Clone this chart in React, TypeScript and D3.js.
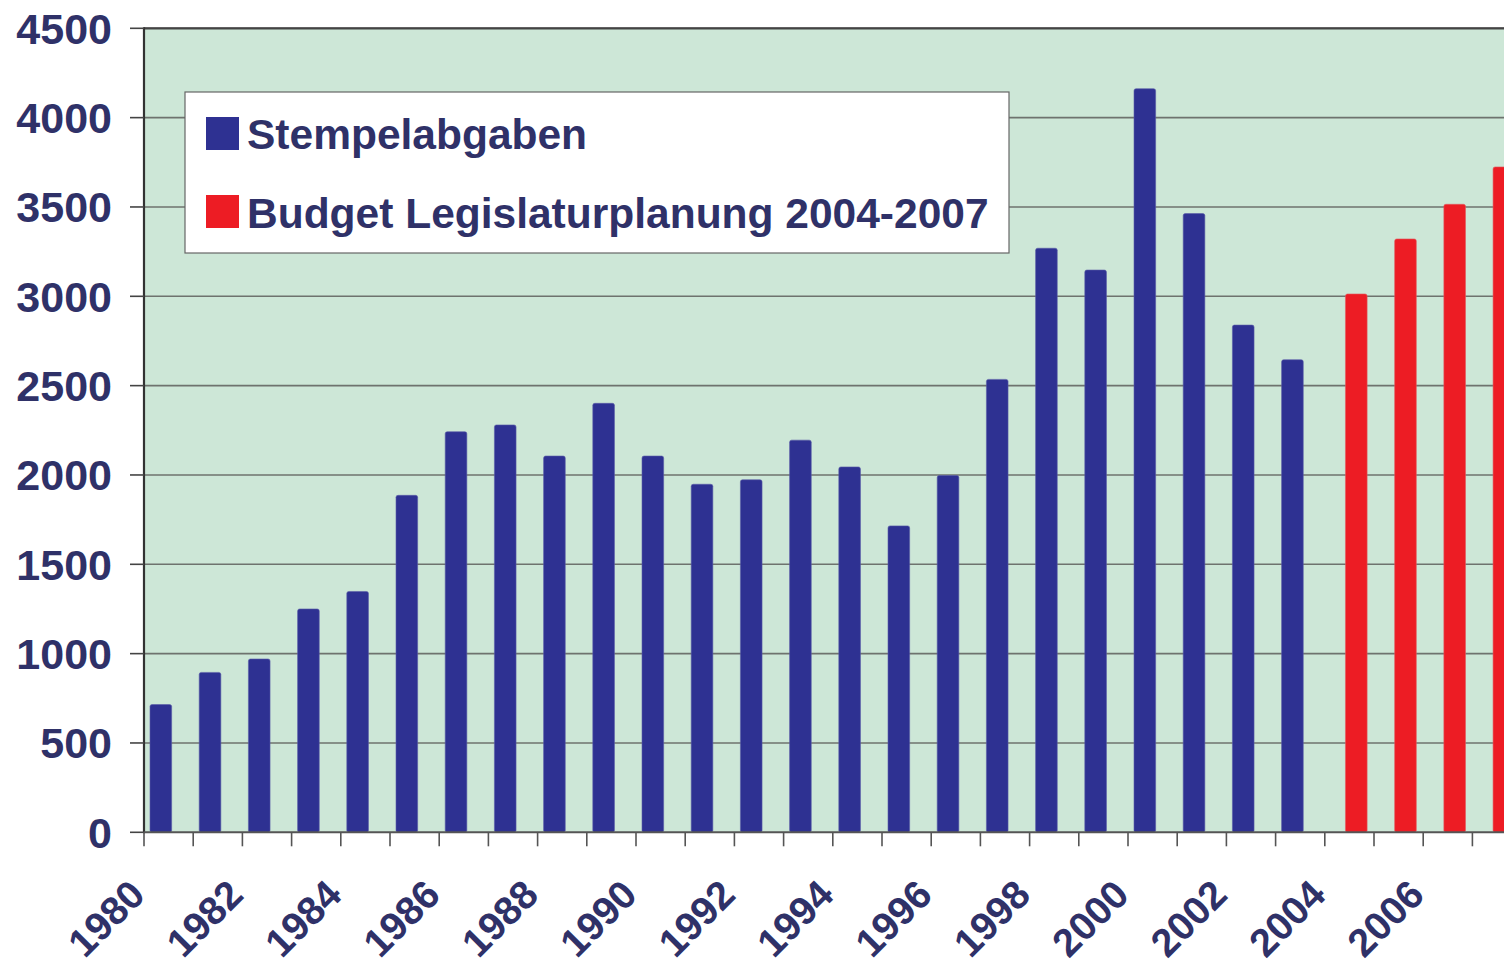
import * as d3 from 'd3';

// categories and values
const years = [
  '1980', '1981', '1982', '1983', '1984', '1985', '1986', '1987', '1988', '1989',
  '1990', '1991', '1992', '1993', '1994', '1995', '1996', '1997', '1998', '1999',
  '2000', '2001', '2002', '2003', '2004', '2005', '2006', '2007',
];
const stempelYears = years.slice(0, 24);
const stempelabgaben = [
  715, 895, 970, 1250, 1348, 1886, 2242, 2280, 2106, 2401,
  2106, 1948, 1973, 2195, 2045, 1715, 1997, 2535, 3269, 3147,
  4162, 3463, 2839, 2645,
];
const budgetYears = ['2004', '2005', '2006', '2007'];
const budget = [3013, 3321, 3515, 3724];
const yTicks = [0, 500, 1000, 1500, 2000, 2500, 3000, 3500, 4000, 4500];
const labelYears = years.filter((y, i) => i % 2 === 0);

const W = 1504;
const H = 967;
const left = 144;
const bandW = 49.2;
const top = 28.3;
const bottom = 832.3;

const textColor = '#2f3168';
const blue = '#2e3192';
const red = '#ed1c24';
const font = 'Liberation Sans, Arial, Helvetica, sans-serif';

export default function App() {
  const x = d3.scaleBand().domain(years).range([left, left + years.length * bandW]);
  const y = d3.scaleLinear().domain([0, 4500]).range([bottom, top]);
  const bw = x.bandwidth();
  const barW = bw * 0.44;

  return (
    <svg width={W} height={H} style={{ position: 'absolute', left: 0, top: 0, background: '#fff' }}>
      <rect x={left} y={top} width={W - left} height={bottom - top} fill="#cde7d7" />
      {yTicks.slice(1).map((t) => (
        <line key={t} x1={left} x2={W} y1={y(t)} y2={y(t)} stroke="#6e736e" strokeWidth={1.6} />
      ))}
      <line x1={left} x2={W} y1={top} y2={top} stroke="#444" strokeWidth={2.2} />

      {stempelYears.map((yr, i) => (
        <rect
          key={yr}
          x={x(yr)! + bw * 0.122}
          y={y(stempelabgaben[i])}
          width={barW}
          height={y(0) - y(stempelabgaben[i])}
          rx={2}
          fill={blue}
          stroke="#5a5ca8"
          strokeWidth={0.6}
        />
      ))}
      {budgetYears.map((yr, i) => (
        <rect
          key={yr}
          x={x(yr)! + bw * 0.42}
          y={y(budget[i])}
          width={barW}
          height={y(0) - y(budget[i])}
          rx={2}
          fill={red}
          stroke="#e25a60"
          strokeWidth={0.6}
        />
      ))}

      {/* axes */}
      <line x1={left} x2={left} y1={top - 1} y2={bottom + 1} stroke="#333" strokeWidth={2.2} />
      <line x1={left} x2={W} y1={bottom} y2={bottom} stroke="#555" strokeWidth={2} />
      {yTicks.map((t) => (
        <g key={t}>
          <line x1={130} x2={left} y1={y(t)} y2={y(t)} stroke="#444" strokeWidth={1.6} />
          <text
            x={112}
            y={y(t) + 15.5}
            textAnchor="end"
            fontFamily={font}
            fontWeight="bold"
            fontSize={43}
            fill={textColor}
          >
            {t}
          </text>
        </g>
      ))}
      {years.map((yr) => (
        <line key={yr} x1={x(yr)!} x2={x(yr)!} y1={bottom} y2={bottom + 14} stroke="#555" strokeWidth={1.6} />
      ))}
      {labelYears.map((yr) => (
        <text
          key={yr}
          transform={`translate(${x(yr)! + 3},${897}) rotate(-45)`}
          textAnchor="end"
          fontFamily={font}
          fontWeight="bold"
          fontSize={39.5}
          fill={textColor}
        >
          {yr}
        </text>
      ))}

      {/* legend */}
      <rect x={185} y={92} width={824} height={161} fill="#fff" stroke="#666" strokeWidth={1.2} />
      <rect x={206} y={117} width={33} height={33} fill={blue} />
      <rect x={206} y={195} width={33} height={33} fill={red} />
      <text x={247} y={149} fontFamily={font} fontWeight="bold" fontSize={42.5} fill={textColor}>
        Stempelabgaben
      </text>
      <text x={247} y={228} fontFamily={font} fontWeight="bold" fontSize={42.5} fill={textColor}>
        Budget Legislaturplanung 2004-2007
      </text>
    </svg>
  );
}
